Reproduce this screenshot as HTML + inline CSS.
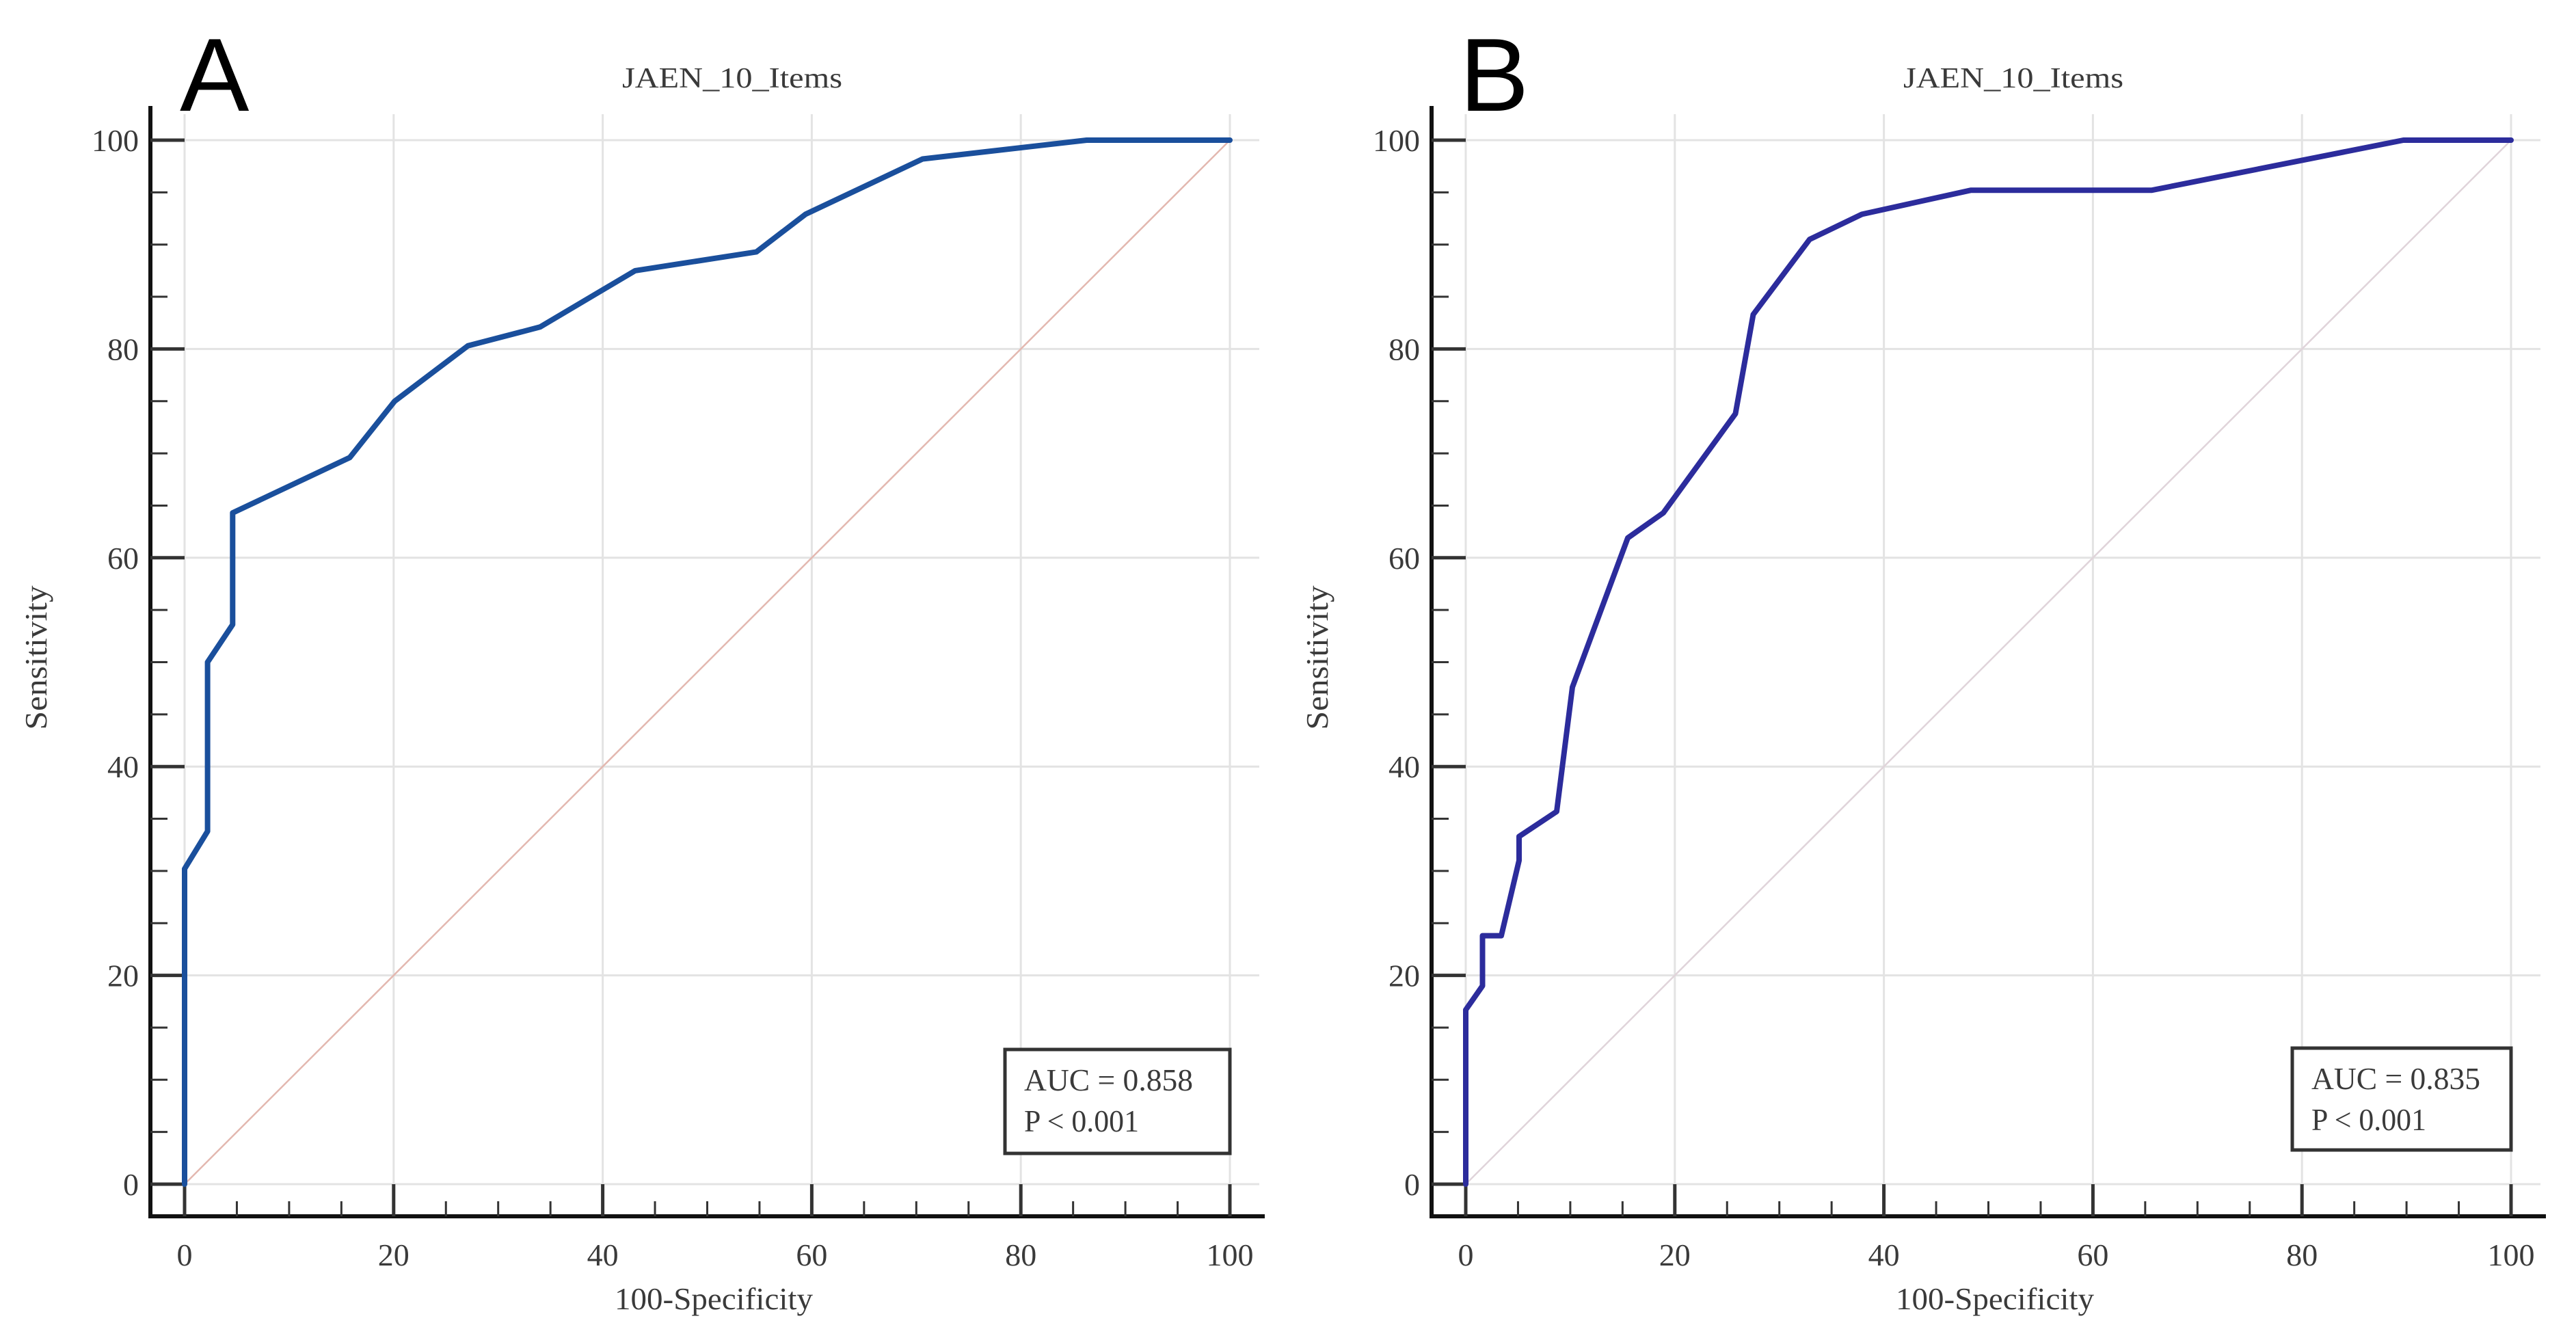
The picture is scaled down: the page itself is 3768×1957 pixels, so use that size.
<!DOCTYPE html>
<html><head><meta charset="utf-8">
<style>
html,body{margin:0;padding:0;background:#fff;}
svg{display:block;}
text{font-family:"Liberation Serif",serif;fill:#3a3a3a;}
.lbl{font-family:"Liberation Sans",sans-serif;fill:#000;}
</style></head>
<body>
<svg id="chart" width="3768" height="1957" viewBox="0 0 3768 1957" xmlns="http://www.w3.org/2000/svg"></svg>
<script>
// Panel A data
const fprA = [0, 0, 2.2, 2.2, 4.6, 4.6, 15.8, 20.1, 27.1, 34.0, 43.1, 54.7, 59.4, 70.6, 86.3, 100];
const tprA = [0, 30.2, 33.8, 50.0, 53.6, 64.3, 69.6, 75.0, 80.3, 82.1, 87.5, 89.3, 92.9, 98.2, 100, 100];
// Panel B data
const fprB = [0, 0, 1.6, 1.6, 3.4, 5.1, 5.1, 8.7, 10.2, 15.5, 18.9, 25.8, 27.5, 32.9, 37.9, 48.3, 65.6, 89.7, 100];
const tprB = [0, 16.7, 19.0, 23.8, 23.8, 31.0, 33.3, 35.7, 47.6, 61.9, 64.3, 73.8, 83.3, 90.5, 92.9, 95.2, 95.2, 100, 100];
const xTicks = [0, 20, 40, 60, 80, 100];
const yTicks = [0, 20, 40, 60, 80, 100];
const panelLetters = ["A", "B"];
const aucTexts = ["AUC = 0.858", "AUC = 0.835"];
const pTexts = ["P < 0.001", "P < 0.001"];

const NS = "http://www.w3.org/2000/svg";
const svg = document.getElementById("chart");
function mk(tag, attrs, parent) {
  const e = document.createElementNS(NS, tag);
  for (const k in attrs) e.setAttribute(k, attrs[k]);
  (parent || svg).appendChild(e);
  return e;
}

function drawPanel(idx, ox, xs, ys, lineColor, diagColor) {
  const g = mk("g", {});
  
  
  const x0 = 270 + ox, x1 = 1799 + ox, y0 = 1732, y1 = 205;
  const X = v => x0 + (x1 - x0) * v / 100;
  const Y = v => y0 - (y0 - y1) * v / 100;
  const axX = 220 + ox, axY = 1779, axRight = 1850 + ox, axTop = 155;

  xTicks.forEach(t => {
    const l = mk("line", {x1: X(t), x2: X(t), y1: 167, y2: y0, stroke: "#e3e3e3", "stroke-width": 3}, g);
    
    
  });
  yTicks.forEach(t => {
    const l = mk("line", {x1: X(0), x2: axRight - 8, y1: Y(t), y2: Y(t), stroke: "#e3e3e3", "stroke-width": 3}, g);
    
    
  });

  const d = mk("line", {x1: X(0), y1: Y(0), x2: X(100), y2: Y(100), stroke: diagColor, "stroke-width": 2.5}, g);
  
  

  const ya = mk("line", {x1: axX, x2: axX, y1: axTop, y2: axY + 3, stroke: "#111", "stroke-width": 6}, g);
  
  
  const xa = mk("line", {x1: axX - 3, x2: axRight, y1: axY, y2: axY, stroke: "#111", "stroke-width": 6}, g);
  
  

  for (let v = 0; v <= 100; v += 5) {
    const major = v % 20 === 0;
    const tx = mk("line", {x1: X(v), x2: X(v), y1: axY, y2: major ? y0 : axY - 22, stroke: "#333", "stroke-width": major ? 5 : 3}, g);
    
    
    const ty = mk("line", {x1: axX, x2: major ? X(0) : axX + 25, y1: Y(v), y2: Y(v), stroke: "#333", "stroke-width": major ? 5 : 3}, g);
    
    
  }
  xTicks.forEach(t => {
    const tl = mk("text", {x: X(t), y: 1851, "font-size": 46, "text-anchor": "middle"}, g);
    tl.textContent = t;
    
    
  });
  yTicks.forEach(t => {
    const tl = mk("text", {x: 203 + ox, y: Y(t) + 16, "font-size": 46, "text-anchor": "end"}, g);
    tl.textContent = t;
    
    
  });

  const pts = xs.map((v, i) => X(v).toFixed(1) + "," + Y(ys[i]).toFixed(1)).join(" ");
  const pl = mk("polyline", {points: pts, fill: "none", stroke: lineColor, "stroke-width": 8, "stroke-linejoin": "round", "stroke-linecap": "round"}, g);
  
  

  const tt = mk("text", {x: 1071 + ox, y: 128, "font-size": 42, "text-anchor": "middle", textLength: 322, lengthAdjust: "spacingAndGlyphs"}, g);
  tt.textContent = "JAEN_10_Items";
  
  
  const xt = mk("text", {x: 1044 + ox, y: 1915, "font-size": 46, "text-anchor": "middle", textLength: 290, lengthAdjust: "spacingAndGlyphs"}, g);
  xt.textContent = "100-Specificity";
  
  
  const yt = mk("text", {x: 0, y: 0, "font-size": 46, "text-anchor": "middle", textLength: 211, lengthAdjust: "spacingAndGlyphs", transform: "translate(" + (68 + ox) + ",962) rotate(-90)"}, g);
  yt.textContent = "Sensitivity";
  
  

  const pl2 = mk("text", {x: 263 + ox + (idx ? -2 : 0), y: 162, "font-size": 152, class: "lbl"}, g);
  pl2.textContent = panelLetters[idx];
  
  

  const bx = idx ? 3353 : 1470, bw = idx ? 320 : 329;
  const by = idx ? 1533 : 1535, bh = idx ? 149 : 152;
  const box = mk("rect", {x: bx, y: by, width: bw, height: bh, fill: "#fff", stroke: "#333", "stroke-width": 5}, g);
  
  
  const a1 = mk("text", {x: bx + 28, y: by + 60, "font-size": 46, textLength: 247, lengthAdjust: "spacingAndGlyphs"}, g);
  a1.textContent = aucTexts[idx];
  
  
  const a2 = mk("text", {x: bx + 28, y: by + 120, "font-size": 46, textLength: 168, lengthAdjust: "spacingAndGlyphs"}, g);
  a2.textContent = pTexts[idx];
  
  
}

drawPanel(0, 0, fprA, tprA, "#1a4f9c", "#e3b8b0");
drawPanel(1, 1874, fprB, tprB, "#2c2c9c", "#e0d4da");
</script>
</body></html>
